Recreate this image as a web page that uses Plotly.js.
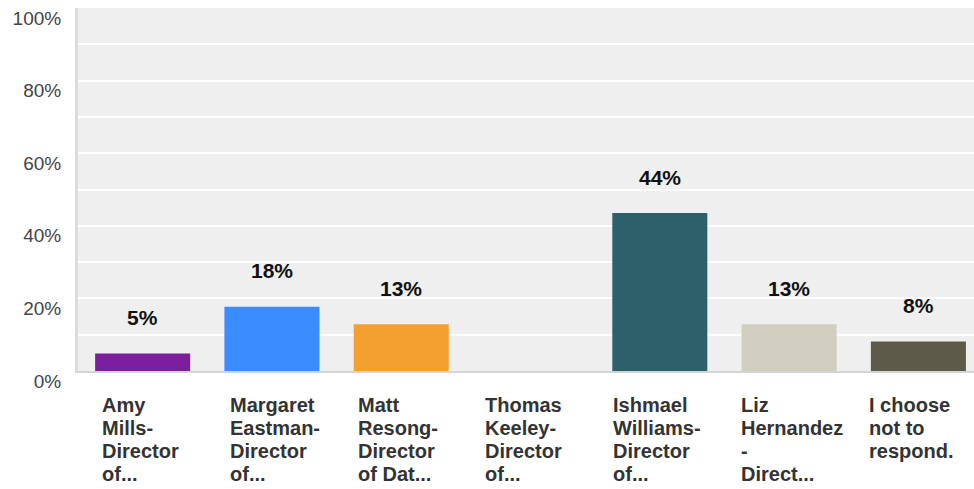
<!DOCTYPE html>
<html>
<head>
<meta charset="utf-8">
<script src="https://cdn.plot.ly/plotly-3.0.1.min.js"></script>
<style>html,body{margin:0;padding:0;background:#fff;}#chart{width:974px;height:489px;}</style>
</head>
<body>
<div id="chart"></div>
<script>
const categories = ["Amy Mills", "Margaret Eastman", "Matt Resong", "Thomas Keeley", "Ishmael Williams", "Liz Hernandez", "I choose not to respond."];
const categoryLabels = [
  ["Amy", "Mills-", "Director", "of..."],
  ["Margaret", "Eastman-", "Director", "of..."],
  ["Matt", "Resong-", "Director", "of Dat..."],
  ["Thomas", "Keeley-", "Director", "of..."],
  ["Ishmael", "Williams-", "Director", "of..."],
  ["Liz", "Hernandez", "-", "Direct..."],
  ["I choose", "not to", "respond."]
];
const values = [4.8, 17.7, 12.9, 0, 43.5, 12.9, 8.1];
const valueLabels = ["5%", "18%", "13%", "", "44%", "13%", "8%"];
const colors = ["#7b1f9c", "#3b8cff", "#f4a031", "#2f6170", "#2e606c", "#d0cfbf", "#5d5a4a"];

const FONT = "Liberation Sans, Arial, Helvetica, sans-serif";

const annotations = [];
categories.forEach((c, i) => {
  if (valueLabels[i]) {
    annotations.push({
      x: i, y: values[i], xref: "x", yref: "y",
      text: valueLabels[i], showarrow: false,
      yanchor: "middle", yshift: 36,
      font: {family: FONT, size: 21, color: "#111111", weight: "bold"}
    });
  }
  categoryLabels[i].forEach((line, k) => {
    annotations.push({
      x: i - 0.33, y: 0, xref: "x", yref: "y",
      text: line, showarrow: false,
      xanchor: "left", yanchor: "middle", align: "left",
      xshift: -1.5 * i, yshift: -(34 + 23 * k),
      font: {family: FONT, size: 20, color: "#333333", weight: "bold"}
    });
  });
});

const trace = {
  type: "bar",
  x: categories.map((c, i) => i),
  y: values,
  marker: {color: colors},
  hoverinfo: "skip"
};

const layout = {
  width: 974, height: 489,
  margin: {l: 78, r: 0, t: 8, b: 118},
  paper_bgcolor: "#ffffff",
  plot_bgcolor: "#efefef",
  bargap: 0.265,
  showlegend: false,
  xaxis: {
    range: [-0.5, 6.43],
    showticklabels: false, showgrid: false, zeroline: false,
    showline: true, linecolor: "#d4d4d4", linewidth: 2, ticks: ""
  },
  yaxis: {
    range: [0, 100],
    tickvals: [0, 10, 20, 30, 40, 50, 60, 70, 80, 90, 100],
    ticktext: ["0%", "", "20%", "", "40%", "", "60%", "", "80%", "", "100%"],
    showgrid: true, gridcolor: "#ffffff", gridwidth: 2,
    zeroline: false, showline: true, linecolor: "#dcdcdc", linewidth: 3,
    ticks: "", ticklabelstandoff: 10, ticklabelshift: 10,
    tickfont: {family: FONT, size: 19, color: "#444444"}
  },
  annotations: annotations
};

Plotly.newPlot("chart", [trace], layout, {staticPlot: true, displayModeBar: false});
</script>
</body>
</html>
